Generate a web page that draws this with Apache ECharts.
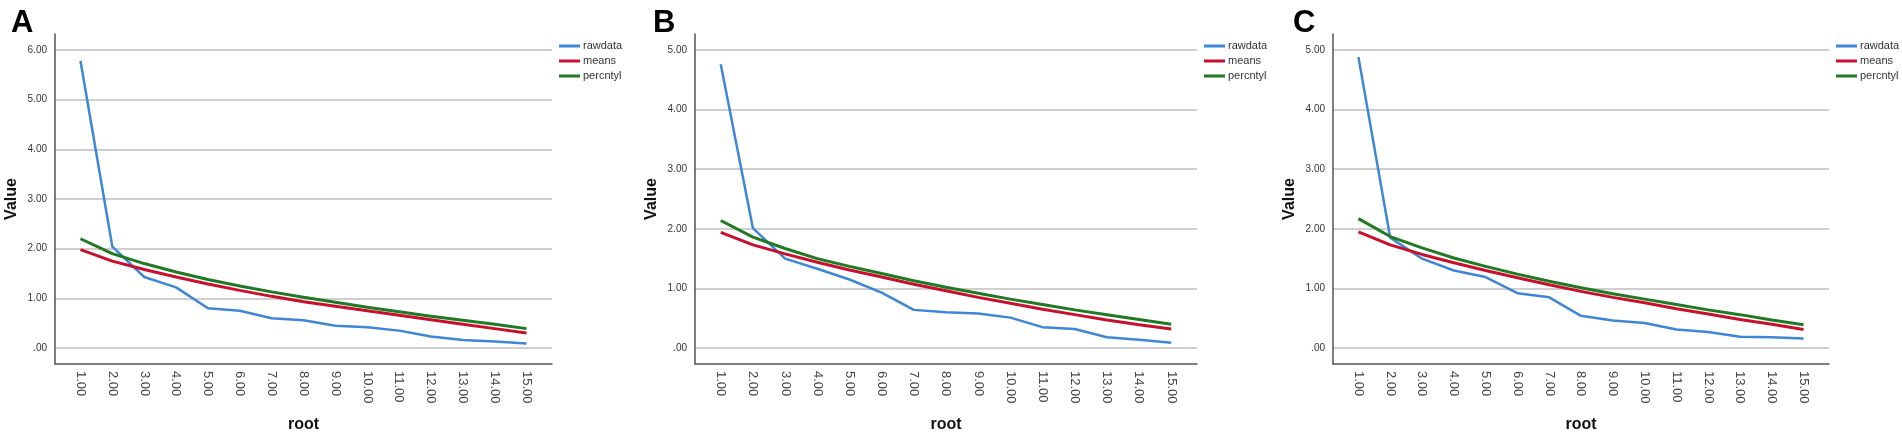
<!DOCTYPE html>
<html>
<head>
<meta charset="utf-8">
<script src="https://cdn.jsdelivr.net/npm/echarts@6/dist/echarts.min.js"></script>
<style>
html,body{margin:0;padding:0;background:#fff;}
#chart{width:1902px;height:439px;}
</style>
</head>
<body>
<div id="chart"></div>
<script>
// ---- data ----
var categories = [1,2,3,4,5,6,7,8,9,10,11,12,13,14,15];
var seriesNames = ['rawdata','means','percntyl'];
var panelLetters = ['A','B','C'];

var rawA  = [5.78,2.04,1.43,1.22,0.80,0.75,0.60,0.56,0.45,0.42,0.35,0.23,0.16,0.13,0.09];
var meansA= [1.98,1.75,1.58,1.43,1.29,1.16,1.04,0.93,0.84,0.75,0.66,0.57,0.48,0.39,0.30];
var pctA  = [2.20,1.90,1.70,1.53,1.38,1.25,1.13,1.02,0.92,0.82,0.73,0.64,0.56,0.48,0.39];

var rawB  = [4.76,2.01,1.50,1.33,1.15,0.93,0.64,0.60,0.58,0.51,0.35,0.32,0.18,0.14,0.09];
var meansB= [1.94,1.73,1.58,1.44,1.31,1.19,1.07,0.96,0.85,0.75,0.65,0.56,0.47,0.39,0.32];
var pctB  = [2.14,1.86,1.67,1.50,1.37,1.25,1.13,1.02,0.92,0.82,0.73,0.64,0.56,0.48,0.40];

var rawC  = [4.88,1.85,1.50,1.30,1.19,0.92,0.85,0.54,0.46,0.42,0.31,0.27,0.19,0.18,0.16];
var meansC= [1.95,1.73,1.57,1.43,1.30,1.18,1.06,0.95,0.85,0.76,0.66,0.57,0.48,0.40,0.31];
var pctC  = [2.17,1.87,1.68,1.51,1.37,1.24,1.12,1.01,0.91,0.82,0.73,0.64,0.56,0.47,0.39];

var yTicksA = [0,1,2,3,4,5,6];
var yTicksB = [0,1,2,3,4,5];
var yTicksC = [0,1,2,3,4,5];

// ---- layout / styles ----
var panels = [
  {raw: rawA, means: meansA, pct: pctA, ticks: yTicksA, left: 55,   width: 497, ymin: -0.322, ymax: 6.322, letterX: 6,    nameX: 35},
  {raw: rawB, means: meansB, pct: pctB, ticks: yTicksB, left: 695,  width: 502, ymin: -0.268, ymax: 5.268, letterX: 648,  nameX: 35},
  {raw: rawC, means: meansC, pct: pctC, ticks: yTicksC, left: 1333, width: 496, ymin: -0.268, ymax: 5.268, letterX: 1288, nameX: 35}
];
var colors = ['#3d86d8', '#c8102e', '#1f7a22'];
var widths = [2.5, 3, 3];
var FONT = '"Liberation Sans", Arial, sans-serif';

function fmt(v){ return v === 0 ? '.00' : v.toFixed(2); }
function pairs(vals){ return categories.map(function(c,i){ return [c, vals[i]]; }); }

var option = {
  backgroundColor: '#ffffff',
  animation: false,
  textStyle: {fontFamily: FONT},
  title: [], grid: [], xAxis: [], yAxis: [], legend: [], series: []
};

panels.forEach(function(p, k){
  option.title.push({
    text: panelLetters[k], left: p.letterX, top: 3,
    textStyle: {fontFamily: FONT, fontSize: 31, fontWeight: 'bold', color: '#000'}
  });
  option.grid.push({left: p.left, width: p.width, top: 34, height: 330, containLabel: false});
  option.xAxis.push({
    type: 'value', gridIndex: k, min: 0.2, max: 15.8,
    name: 'root', nameLocation: 'middle', nameGap: 53,
    nameTextStyle: {fontFamily: FONT, fontSize: 16, fontWeight: 'bold', color: '#111'},
    axisLine: {show: true, onZero: false, lineStyle: {color: '#555', width: 1.5}},
    axisTick: {show: false, customValues: categories},
    splitLine: {show: false},
    axisLabel: {customValues: categories, rotate: -90, margin: 7, fontSize: 13, color: '#444',
                fontFamily: FONT, formatter: function(v){ return fmt(v); }}
  });
  option.yAxis.push({
    type: 'value', gridIndex: k, min: p.ymin, max: p.ymax,
    name: 'Value', nameLocation: 'middle', nameGap: p.nameX, nameRotate: 90,
    nameTextStyle: {fontFamily: FONT, fontSize: 16, fontWeight: 'bold', color: '#111'},
    axisLine: {show: true, onZero: false, lineStyle: {color: '#555', width: 1.5}},
    axisTick: {show: false, customValues: p.ticks},
    splitLine: {show: true, lineStyle: {color: '#bfbfbf', width: 1.5}},
    axisLabel: {customValues: p.ticks, margin: 8, fontSize: 10, color: '#333',
                fontFamily: FONT, formatter: function(v){ return fmt(v); }}
  });
  option.legend.push({
    left: p.left + p.width + 2, top: 35, orient: 'vertical',
    itemWidth: 21, itemHeight: 3, itemGap: 3, icon: 'rect',
    textStyle: {fontFamily: FONT, fontSize: 11, color: '#333', lineHeight: 12, padding: [0,0,0,-2]},
    data: seriesNames.map(function(n){ return n + ' ' + panelLetters[k].toLowerCase(); }),
    formatter: function(name){ return name.split(' ')[0]; }
  });
  var vals = [p.raw, p.means, p.pct];
  seriesNames.forEach(function(n, j){
    option.series.push({
      name: n + ' ' + panelLetters[k].toLowerCase(),
      type: 'line', xAxisIndex: k, yAxisIndex: k,
      data: pairs(vals[j]),
      symbol: 'none', smooth: false,
      color: colors[j],
      lineStyle: {color: colors[j], width: widths[j]},
      z: 2 + j
    });
  });
});

var chart = echarts.init(document.getElementById('chart'), null, {renderer: 'canvas'});
chart.setOption(option);
</script>
</body>
</html>
